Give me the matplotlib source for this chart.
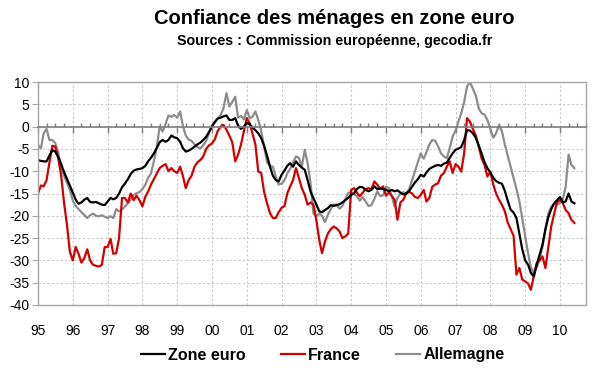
import matplotlib
matplotlib.use("Agg")
import matplotlib.pyplot as plt
import matplotlib.dates as mdates
import pandas as pd
import numpy as np

plt.rcParams['font.family'] = ['Liberation Sans', 'DejaVu Sans']

# Monthly data, Jan 1995 - Jun 2010
dates = pd.date_range('1995-01-01', periods=186, freq='MS')

zone_euro = [
    -7.5, -7.7, -7.8, -7.8, -6.5, -5.3, -5.6, -6.8, -8.4, -10.2, -11.7, -13.2,
    -14.8, -16.4, -17.3, -17.0, -16.4, -16.0, -16.9, -17.0, -16.9, -17.2, -17.5, -17.6,
    -16.8, -16.0, -16.3, -16.0, -15.0, -13.6, -12.8, -11.8, -10.6, -9.9, -9.6, -9.5,
    -9.3, -8.8, -7.8, -7.0, -6.0, -4.8, -3.5, -3.0, -3.4, -3.0, -2.0, -2.4,
    -2.6, -3.4, -4.8, -5.6, -5.4, -5.0, -4.5, -4.0, -3.6, -3.0, -2.3, -1.2,
    0.0, 1.0, 1.8, 2.0, 2.3, 2.5, 1.5, 1.5, 1.9, 0.2, -0.5, 0.0,
    0.8, 0.5, -0.2, -0.8, -1.5, -2.6, -4.3, -6.5, -9.0, -11.0, -12.0, -12.3,
    -10.8, -9.8, -8.8, -8.2, -9.0, -7.8, -8.6, -9.2, -9.7, -12.0, -14.6, -16.0,
    -17.5, -19.0, -19.2, -18.7, -18.3, -17.6, -17.8, -17.6, -17.4, -17.0, -16.5, -16.0,
    -15.3, -15.0, -14.0, -13.5, -13.6, -14.2, -14.5, -14.2, -13.4, -14.0, -13.9, -14.0,
    -14.2, -14.5, -14.2, -14.5, -14.3, -14.8, -15.2, -15.0, -14.4, -13.5, -12.5, -11.8,
    -10.8, -11.2, -10.3, -9.5, -9.1, -8.8, -8.6, -8.8, -8.3, -8.1, -7.0, -6.0,
    -5.2, -4.9, -4.6, -3.0, -0.8, -0.9, -1.5, -2.5, -4.2, -6.0, -8.0, -9.3,
    -10.3, -11.5, -12.2, -12.6, -12.8, -14.4, -16.6, -18.6, -19.3, -20.5, -24.0, -27.5,
    -30.0, -31.0, -32.8, -33.6, -31.0, -28.7, -26.5, -23.0, -20.3, -18.5, -17.2, -16.5,
    -15.8, -17.0, -16.8, -15.0, -16.8, -17.2,
]

france = [
    -15.0, -13.2, -13.4, -12.0, -8.0, -4.3, -4.5, -7.0, -11.0, -17.0, -22.0, -28.0,
    -30.0, -27.0, -28.5, -30.5, -29.5, -27.5, -30.0, -31.0, -31.2, -31.4, -31.0, -27.0,
    -27.0, -25.2, -28.5, -28.4, -25.0, -16.0, -16.0, -17.0, -15.0, -16.5, -15.5, -16.5,
    -17.9, -15.7, -14.6, -13.0, -11.8, -10.5, -9.3, -8.8, -8.4, -10.0, -9.3, -10.0,
    -10.4, -9.0, -11.0, -13.8, -12.0, -11.0, -9.0, -8.0, -7.5, -6.7, -5.0, -4.2,
    -3.8, -2.8, -1.0, 0.0, 0.4, -0.7, -2.0, -3.5, -7.8, -6.3, -4.0, -1.0,
    1.9, 0.7, -1.5, -4.0, -10.1, -10.4, -14.6, -17.2, -19.4, -20.5, -20.5, -19.2,
    -18.2, -17.8, -15.0, -13.4, -12.0, -9.3, -11.5, -13.8, -15.3, -17.5, -17.0, -17.5,
    -21.0, -25.5, -28.4, -25.8, -24.0, -23.0, -22.4, -22.8, -23.5, -25.0, -24.6, -24.0,
    -14.2, -13.8, -14.8, -15.6, -14.8, -14.0, -13.8, -14.0, -12.3, -13.0, -14.0, -13.4,
    -15.5, -14.8, -15.5, -16.4, -20.9, -17.0, -16.4, -15.0, -14.6, -15.0, -15.8, -16.0,
    -15.3, -14.2, -16.8, -16.0, -13.5, -13.0, -12.7, -11.0, -10.4, -9.0, -7.8, -10.4,
    -8.4, -9.0, -10.1, -6.0, 1.9, 1.1, -0.5, -2.0, -4.5, -7.1, -8.6, -11.2,
    -10.1, -13.0, -15.0, -16.4, -17.5, -19.0, -21.5, -23.0, -24.5, -33.2, -31.7, -34.3,
    -34.7, -35.2, -36.6, -33.6, -30.6, -30.0, -29.1, -31.7, -27.0, -22.4, -19.5, -17.0,
    -16.5, -17.2, -18.7, -19.4, -20.9, -21.6,
]

allemagne = [
    -4.1, -4.9, -1.5, -0.5, -3.0, -3.0, -3.7, -5.8, -9.0, -11.0, -12.6, -14.2,
    -16.6, -17.8, -18.5, -19.2, -19.8, -20.5, -19.9, -19.5, -20.0, -20.1, -19.9, -20.2,
    -20.5, -20.1, -20.5, -18.5, -19.0, -18.6, -17.9, -17.2, -16.4, -15.4, -14.9, -14.7,
    -14.0, -13.0, -11.5, -10.5, -7.8, -4.5, 0.0, -1.1, 0.6, 2.5, 2.2, 2.6,
    2.0, 3.4, 0.2, -2.0, -2.9, -3.2, -4.0, -4.6, -4.9, -4.2, -3.2, -1.5,
    0.3, 1.2, 1.8, 2.6, 4.1, 7.5, 4.5, 5.5, 6.7, 2.0, 2.4, 1.6,
    3.7, 1.9, 2.2, 3.4, 1.5, -1.0, -4.5, -8.0, -8.8, -9.0, -11.2, -13.0,
    -12.8, -12.0, -10.5, -9.5, -8.0, -6.7, -7.0, -9.0, -5.2, -8.2, -12.7, -19.5,
    -20.1, -19.5, -20.0, -21.4, -19.8, -18.5, -17.5, -17.5, -18.4, -17.8, -16.2, -14.9,
    -14.6, -15.2, -15.6, -16.6, -15.8, -16.8, -17.8, -17.6, -16.2, -14.5, -15.6, -15.4,
    -13.5, -13.8, -15.5, -17.9, -16.0, -15.0, -14.7, -15.0, -14.0, -12.0, -10.0, -8.0,
    -6.0, -7.2, -5.8, -4.0, -3.0, -3.2, -4.4, -6.0, -6.7, -7.1, -4.8, -2.2,
    -0.9, 1.2, 3.0, 5.5, 9.0, 10.0, 8.5, 7.0, 4.1, 3.0, 2.7, 1.5,
    -0.5, -2.5, -1.5, 0.3, -1.0, -4.0, -6.5, -9.0, -11.5, -14.0, -16.8, -20.5,
    -24.6, -28.5, -31.5, -32.8, -31.6, -29.8, -27.0, -23.0, -19.5, -18.0, -17.2, -17.5,
    -17.2, -16.2, -13.5, -6.3, -8.6, -9.3,
]

series_names = ['Zone euro', 'France', 'Allemagne']
series_colors = ['#000000', '#d40000', '#8c8c8c']

year_ticks = pd.date_range('1995-01-01', '2010-01-01', freq='YS')
year_labels = ['95', '96', '97', '98', '99', '00', '01', '02', '03', '04',
               '05', '06', '07', '08', '09', '10']
y_ticks = [10, 5, 0, -5, -10, -15, -20, -25, -30, -35, -40]

fig = plt.figure(figsize=(6.0, 3.72), dpi=100)
ax = fig.add_axes([38 / 600, 1 - 305 / 372, 548 / 600, 223 / 372])

for data, name, col in [(allemagne, 'Allemagne', series_colors[2]),
                        (france, 'France', series_colors[1]),
                        (zone_euro, 'Zone euro', series_colors[0])]:
    ax.plot(dates, data, color=col, lw=1.6, label=name)

ax.set_ylim(-40, 10)
ax.set_xlim(pd.Timestamp('1995-01-01'), pd.Timestamp('2010-10-01'))
ax.set_yticks(y_ticks)
ax.set_yticklabels([str(v) for v in y_ticks], fontsize=10)

# zero line axis with ticks
ax.spines['bottom'].set_position(('data', 0))
ax.spines['bottom'].set_color('#7f7f7f')
ax.spines['bottom'].set_linewidth(1.2)
ax.set_xticks(year_ticks)
ax.xaxis.set_minor_locator(mdates.MonthLocator(bymonth=[4, 7, 10]))
ax.tick_params(axis='x', which='major', length=4, width=1, color='#7f7f7f',
               direction='out', labelbottom=False)
ax.tick_params(axis='x', which='minor', length=3, width=1, color='#7f7f7f',
               direction='in')

for s in ['top', 'left', 'right']:
    ax.spines[s].set_color('#a6a6a6')
    ax.spines[s].set_linewidth(1.0)
ax.tick_params(axis='y', length=4, color='#a6a6a6', pad=2)

ax.grid(True, axis='both', which='major', color='#c8c8c8', ls=(0, (2, 2)), lw=0.8)
ax.set_axisbelow(True)

# year labels below frame
sec = ax.secondary_xaxis('bottom')
sec.set_xticks(year_ticks)
sec.set_xticklabels(year_labels, fontsize=10)
sec.tick_params(length=0, pad=14)
sec.spines['bottom'].set_color('#a6a6a6')
sec.spines['bottom'].set_linewidth(1.0)

fig.text(0.557, 1 - 19 / 372, 'Confiance des ménages en zone euro',
         ha='center', va='center', fontsize=14.5, fontweight='bold')
fig.text(0.558, 1 - 41 / 372, 'Sources : Commission européenne, gecodia.fr',
         ha='center', va='center', fontsize=10.3, fontweight='bold')

handles, labels = ax.get_legend_handles_labels()
order = [labels.index(n) for n in series_names]
fig.legend([handles[i] for i in order], [labels[i] for i in order],
           loc='center', bbox_to_anchor=(0.538, 1 - 355 / 372), ncol=3,
           frameon=False, prop={'weight': 'bold', 'size': 11.5},
           handlelength=1.5, handletextpad=0.2, columnspacing=2.2)

fig.savefig('out.png', dpi=100, facecolor='white')
